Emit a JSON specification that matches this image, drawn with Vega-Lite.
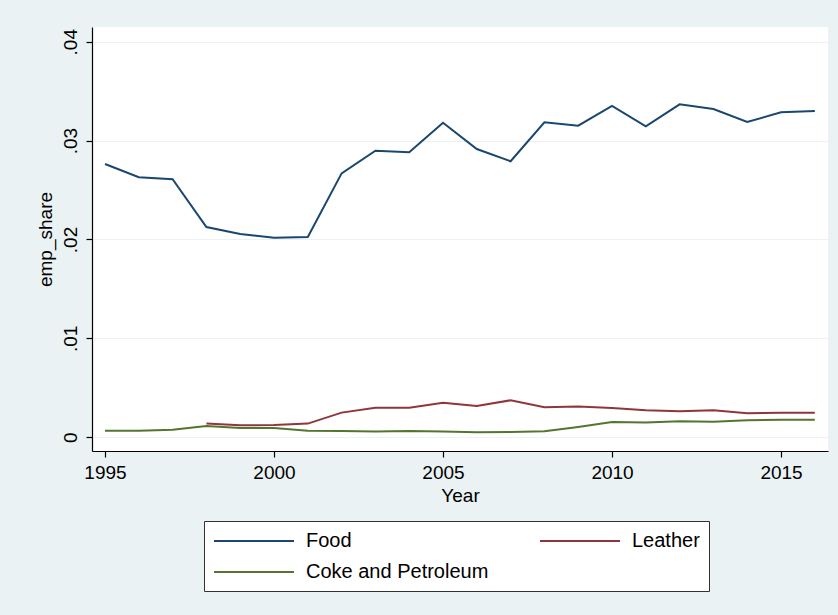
{
  "$schema": "https://vega.github.io/schema/vega-lite/v6.json",
  "width": 736,
  "height": 424,
  "autosize": {"type": "none"},
  "padding": {"left": 92, "top": 27, "right": 10, "bottom": 164},
  "background": "#EAF2F3",
  "view": {"fill": "white", "stroke": null},
  "config": {"font": "Liberation Sans"},
  "data": {
    "values": [
      {"year": 1995, "industry": "Food", "emp_share": 0.02763},
      {"year": 1996, "industry": "Food", "emp_share": 0.02629},
      {"year": 1997, "industry": "Food", "emp_share": 0.02609},
      {"year": 1998, "industry": "Food", "emp_share": 0.02126},
      {"year": 1999, "industry": "Food", "emp_share": 0.02056},
      {"year": 2000, "industry": "Food", "emp_share": 0.02018},
      {"year": 2001, "industry": "Food", "emp_share": 0.02025},
      {"year": 2002, "industry": "Food", "emp_share": 0.02669},
      {"year": 2003, "industry": "Food", "emp_share": 0.02898},
      {"year": 2004, "industry": "Food", "emp_share": 0.02882},
      {"year": 2005, "industry": "Food", "emp_share": 0.03181},
      {"year": 2006, "industry": "Food", "emp_share": 0.02915},
      {"year": 2007, "industry": "Food", "emp_share": 0.02791},
      {"year": 2008, "industry": "Food", "emp_share": 0.03185},
      {"year": 2009, "industry": "Food", "emp_share": 0.03151},
      {"year": 2010, "industry": "Food", "emp_share": 0.0335},
      {"year": 2011, "industry": "Food", "emp_share": 0.03145},
      {"year": 2012, "industry": "Food", "emp_share": 0.03367},
      {"year": 2013, "industry": "Food", "emp_share": 0.0332},
      {"year": 2014, "industry": "Food", "emp_share": 0.03188},
      {"year": 2015, "industry": "Food", "emp_share": 0.03286},
      {"year": 2016, "industry": "Food", "emp_share": 0.03299},
      {"year": 1998, "industry": "Leather", "emp_share": 0.00138},
      {"year": 1999, "industry": "Leather", "emp_share": 0.00121},
      {"year": 2000, "industry": "Leather", "emp_share": 0.00124},
      {"year": 2001, "industry": "Leather", "emp_share": 0.00138},
      {"year": 2002, "industry": "Leather", "emp_share": 0.00249},
      {"year": 2003, "industry": "Leather", "emp_share": 0.00299},
      {"year": 2004, "industry": "Leather", "emp_share": 0.00299},
      {"year": 2005, "industry": "Leather", "emp_share": 0.0035},
      {"year": 2006, "industry": "Leather", "emp_share": 0.00316},
      {"year": 2007, "industry": "Leather", "emp_share": 0.00374},
      {"year": 2008, "industry": "Leather", "emp_share": 0.00303},
      {"year": 2009, "industry": "Leather", "emp_share": 0.0031},
      {"year": 2010, "industry": "Leather", "emp_share": 0.00296},
      {"year": 2011, "industry": "Leather", "emp_share": 0.00273},
      {"year": 2012, "industry": "Leather", "emp_share": 0.00263},
      {"year": 2013, "industry": "Leather", "emp_share": 0.00273},
      {"year": 2014, "industry": "Leather", "emp_share": 0.00243},
      {"year": 2015, "industry": "Leather", "emp_share": 0.00249},
      {"year": 2016, "industry": "Leather", "emp_share": 0.00249},
      {"year": 1995, "industry": "Coke and Petroleum", "emp_share": 0.00067},
      {"year": 1996, "industry": "Coke and Petroleum", "emp_share": 0.00067},
      {"year": 1997, "industry": "Coke and Petroleum", "emp_share": 0.00077},
      {"year": 1998, "industry": "Coke and Petroleum", "emp_share": 0.00114},
      {"year": 1999, "industry": "Coke and Petroleum", "emp_share": 0.00094},
      {"year": 2000, "industry": "Coke and Petroleum", "emp_share": 0.00094},
      {"year": 2001, "industry": "Coke and Petroleum", "emp_share": 0.00067},
      {"year": 2002, "industry": "Coke and Petroleum", "emp_share": 0.00064},
      {"year": 2003, "industry": "Coke and Petroleum", "emp_share": 0.00057},
      {"year": 2004, "industry": "Coke and Petroleum", "emp_share": 0.00064},
      {"year": 2005, "industry": "Coke and Petroleum", "emp_share": 0.00057},
      {"year": 2006, "industry": "Coke and Petroleum", "emp_share": 0.0005},
      {"year": 2007, "industry": "Coke and Petroleum", "emp_share": 0.00054},
      {"year": 2008, "industry": "Coke and Petroleum", "emp_share": 0.0006},
      {"year": 2009, "industry": "Coke and Petroleum", "emp_share": 0.00104},
      {"year": 2010, "industry": "Coke and Petroleum", "emp_share": 0.00155},
      {"year": 2011, "industry": "Coke and Petroleum", "emp_share": 0.00148},
      {"year": 2012, "industry": "Coke and Petroleum", "emp_share": 0.00162},
      {"year": 2013, "industry": "Coke and Petroleum", "emp_share": 0.00158},
      {"year": 2014, "industry": "Coke and Petroleum", "emp_share": 0.00172},
      {"year": 2015, "industry": "Coke and Petroleum", "emp_share": 0.00178},
      {"year": 2016, "industry": "Coke and Petroleum", "emp_share": 0.00178}
    ]
  },
  "mark": {"type": "line", "strokeWidth": 2},
  "encoding": {
    "x": {
      "field": "year",
      "type": "quantitative",
      "scale": {"domain": [1994.615, 2016.39], "nice": false, "zero": false},
      "axis": {
        "values": [1995, 2000, 2005, 2010, 2015],
        "format": "d",
        "title": "Year",
        "grid": false,
        "domainColor": "#000",
        "domainWidth": 1.2,
        "tickColor": "#000",
        "tickWidth": 1.2,
        "tickSize": 6,
        "labelColor": "#000",
        "labelFontSize": 19,
        "labelPadding": 6,
        "titleColor": "#000",
        "titleFontSize": 19,
        "titleFontWeight": "normal",
        "titlePadding": 4
      }
    },
    "y": {
      "field": "emp_share",
      "type": "quantitative",
      "scale": {"domain": [-0.00139, 0.04149], "nice": false, "zero": false},
      "axis": {
        "values": [0, 0.01, 0.02, 0.03, 0.04],
        "labelExpr": "datum.value == 0 ? '0' : replace(format(datum.value, '.2f'), '0.', '.')",
        "title": "emp_share",
        "labelAngle": -90,
        "grid": true,
        "gridColor": "#EAF2F3",
        "gridWidth": 1.2,
        "domainColor": "#000",
        "domainWidth": 1.2,
        "tickColor": "#000",
        "tickWidth": 1.2,
        "tickSize": 6,
        "labelColor": "#000",
        "labelFontSize": 19,
        "labelPadding": 6,
        "titleColor": "#000",
        "titleFontSize": 19,
        "titleFontWeight": "normal",
        "titlePadding": 6
      }
    },
    "color": {
      "field": "industry",
      "type": "nominal",
      "scale": {
        "domain": ["Food", "Leather", "Coke and Petroleum"],
        "range": ["#1A476F", "#90353B", "#55752F"]
      },
      "legend": {
        "title": null,
        "orient": "none",
        "legendX": 112,
        "legendY": 494,
        "columns": 2,
        "direction": "horizontal",
        "fillColor": "white",
        "strokeColor": "#333",
        "padding": 9,
        "symbolType": "M-1,0H7",
        "symbolSize": 400,
        "symbolStrokeWidth": 1.8,
        "labelOffset": 71,
        "labelFontSize": 20,
        "labelLimit": 400,
        "labelColor": "#000",
        "columnPadding": 47,
        "rowPadding": 10
      }
    }
  }
}
